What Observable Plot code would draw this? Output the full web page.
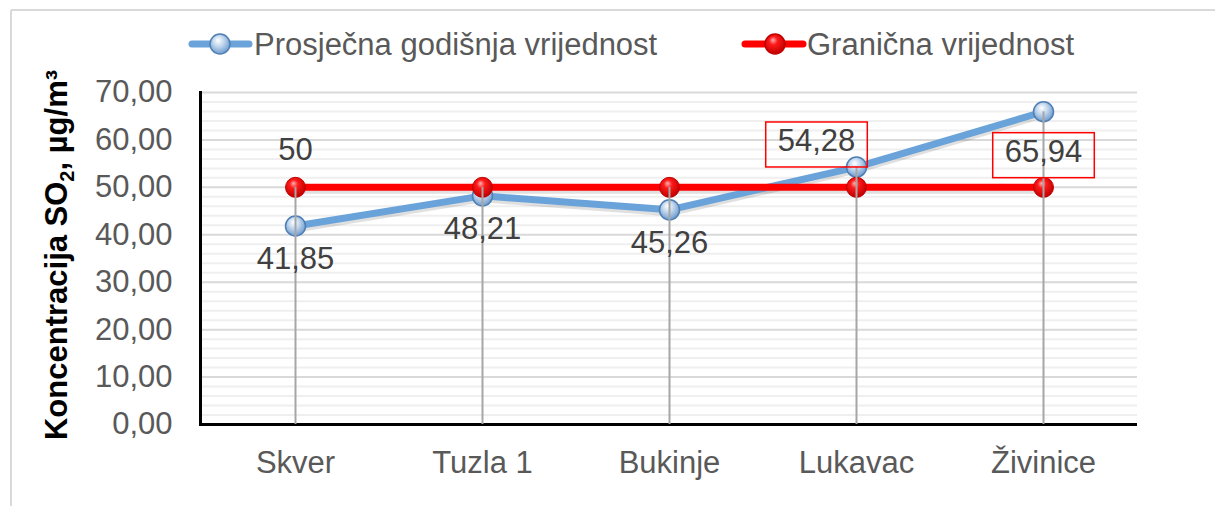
<!DOCTYPE html>
<html><head><meta charset="utf-8">
<script src="https://cdn.jsdelivr.net/npm/d3@7"></script>
<script src="https://cdn.jsdelivr.net/npm/@observablehq/plot@0.6"></script>
<style>
body{margin:0;background:#fff;}
#chart{width:1215px;height:506px;position:relative;overflow:hidden;}
</style></head><body><div id="chart"></div>
<script>
const stations = ["Skver", "Tuzla 1", "Bukinje", "Lukavac", "Živinice"];
const annualAvg = [41.85, 48.21, 45.26, 54.28, 65.94];
const limitValue = [50, 50, 50, 50, 50];
const yTicks = [0, 10, 20, 30, 40, 50, 60, 70];
const seriesNames = ["Prosječna godišnja vrijednost", "Granična vrijednost"];

const FONT = "'Liberation Sans', Arial, sans-serif";
const BLUE = "#6aa3da";
const RED = "#ff0000";
const FS = 31;

const rows = stations.map((s, i) => ({
  station: s, avg: annualAvg[i], limit: limitValue[i],
  top: Math.max(annualAvg[i], limitValue[i])
}));
const fmt = v => d3.format(".2f")(v).replace(".", ",");
const minorTicks = d3.range(0, 71, 2).filter(v => v % 10 !== 0);
const below = rows.filter(d => d.avg < d.limit);
const boxed = rows.filter(d => d.avg >= d.limit);

const plot = Plot.plot({
  width: 1215, height: 506,
  marginLeft: 200, marginRight: 78, marginTop: 92, marginBottom: 82,
  style: {fontFamily: FONT, background: "transparent", overflow: "visible"},
  x: {type: "point", domain: stations, padding: 0.5, label: null},
  y: {domain: [0, 70], label: null},
  marks: [
    Plot.ruleY(minorTicks, {stroke: "#efefef", strokeWidth: 2}),
    Plot.ruleY(yTicks, {stroke: "#d9d9d9", strokeWidth: 2}),
    Plot.axisY({ticks: yTicks, tickSize: 0, tickPadding: 28, tickFormat: fmt,
      fontSize: FS, fill: "#595959", label: null}),
    Plot.axisX({tickSize: 0, tickPadding: 26, fontSize: FS, fill: "#595959", label: null}),
    Plot.frame({anchor: "left", stroke: "#000", strokeWidth: 3}),
    Plot.ruleY([0], {stroke: "#000", strokeWidth: 3}),
    // shadows
    Plot.lineY(rows, {x: "station", y: "avg", stroke: "#000", strokeOpacity: 0.12, strokeWidth: 7, dy: 3}),
    Plot.lineY(rows, {x: "station", y: "limit", stroke: "#000", strokeOpacity: 0.12, strokeWidth: 7, dy: 3}),
    Plot.lineY(rows, {x: "station", y: "avg", stroke: BLUE, strokeWidth: 7}),
    Plot.lineY(rows, {x: "station", y: "limit", stroke: RED, strokeWidth: 7}),
    Plot.dot(rows, {x: "station", y: "avg", r: 10, fill: "url(#gBlue)", stroke: "#4f7fb3", strokeWidth: 1.5}),
    Plot.dot(rows, {x: "station", y: "limit", r: 10, fill: "url(#gRed)", stroke: "#c00000", strokeWidth: 1}),
    Plot.ruleX(rows, {x: "station", y1: 0, y2: "top", stroke: "#a6a6a6", strokeWidth: 2}),
    // labels
    Plot.text(below, {x: "station", y: "avg", text: d => fmt(d.avg), dy: 33,
      fontSize: FS, fill: "#404040"}),
    Plot.text(rows.slice(0, 1), {x: "station", y: "limit", text: d => String(d.limit), dy: -37,
      fontSize: FS, fill: "#404040"}),
    Plot.text(boxed, {x: "station", y: "avg", text: d => fmt(d.avg),
      fontSize: FS, fill: "#404040", className: "boxed"})
  ]
});

document.getElementById("chart").appendChild(plot);
const svg = d3.select(plot);

// gradients for sphere markers
const defs = svg.insert("defs", ":first-child");
function grad(id, stops) {
  const g = defs.append("radialGradient").attr("id", id)
    .attr("cx", "45%").attr("cy", "40%").attr("r", "60%").attr("fx", "40%").attr("fy", "30%");
  stops.forEach(([o, c]) => g.append("stop").attr("offset", o).attr("stop-color", c));
}
grad("gBlue", [["0%", "#ffffff"], ["45%", "#c3d8ee"], ["100%", "#6f9bcf"]]);
grad("gRed", [["0%", "#ffb0b0"], ["35%", "#ff1a1a"], ["100%", "#c00000"]]);

// position boxed labels (Lukavac: upper-left, Živinice: below) and draw boxes
const boxOffsets = [[-40, -26], [0, 40]];
svg.selectAll("g.boxed text").each(function(d, i) {
  const t = d3.select(this);
  const [dx, dy] = boxOffsets[i] || [0, 0];
  const tr = t.attr("transform") || "";
  t.attr("transform", tr + ` translate(${dx},${dy})`);
});
svg.selectAll("g.boxed text").each(function() {
  const b = this.getBBox();
  d3.select(this.parentNode).insert("rect", () => this)
    .attr("transform", this.getAttribute("transform"))
    .attr("x", b.x - 12).attr("y", b.y - 1).attr("width", b.width + 24).attr("height", b.height + 10)
    .attr("fill", "none").attr("stroke", RED).attr("stroke-width", 1.5);
});

// outer chart-area border (top & left)
svg.append("line").attr("x1", 11).attr("x2", 1215).attr("y1", 10).attr("y2", 10)
  .attr("stroke", "#d9d9d9").attr("stroke-width", 2);
svg.append("line").attr("x1", 11).attr("x2", 11).attr("y1", 10).attr("y2", 506)
  .attr("stroke", "#d9d9d9").attr("stroke-width", 2);

// y-axis title
const yt = svg.append("text").attr("transform", "translate(67,255) rotate(-90)")
  .attr("text-anchor", "middle").attr("font-family", FONT).attr("font-size", FS)
  .attr("font-weight", "bold").attr("fill", "#000");
yt.append("tspan").text("Koncentracija SO");
yt.append("tspan").text("2").attr("font-size", 20).attr("dy", 7);
yt.append("tspan").text(", µg/m³").attr("dy", -7);

// legend
const legend = svg.append("g").attr("font-family", FONT).attr("font-size", FS)
  .attr("fill", "#595959").attr("text-anchor", "start");
const legendItems = [
  {name: seriesNames[0], x0: 192, x1: 249, cx: 220, color: BLUE, fill: "url(#gBlue)", stroke: "#4f7fb3", tx: 254},
  {name: seriesNames[1], x0: 745, x1: 803, cx: 775, color: RED, fill: "url(#gRed)", stroke: "#c00000", tx: 807}
];
legendItems.forEach(it => {
  legend.append("line").attr("x1", it.x0).attr("x2", it.x1).attr("y1", 44).attr("y2", 44)
    .attr("stroke", it.color).attr("stroke-width", 7).attr("stroke-linecap", "round");
  legend.append("circle").attr("cx", it.cx).attr("cy", 44).attr("r", 10)
    .attr("fill", it.fill).attr("stroke", it.stroke).attr("stroke-width", 1.5);
  legend.append("text").attr("x", it.tx).attr("y", 55).attr("text-anchor", "start").text(it.name);
});
</script></body></html>
